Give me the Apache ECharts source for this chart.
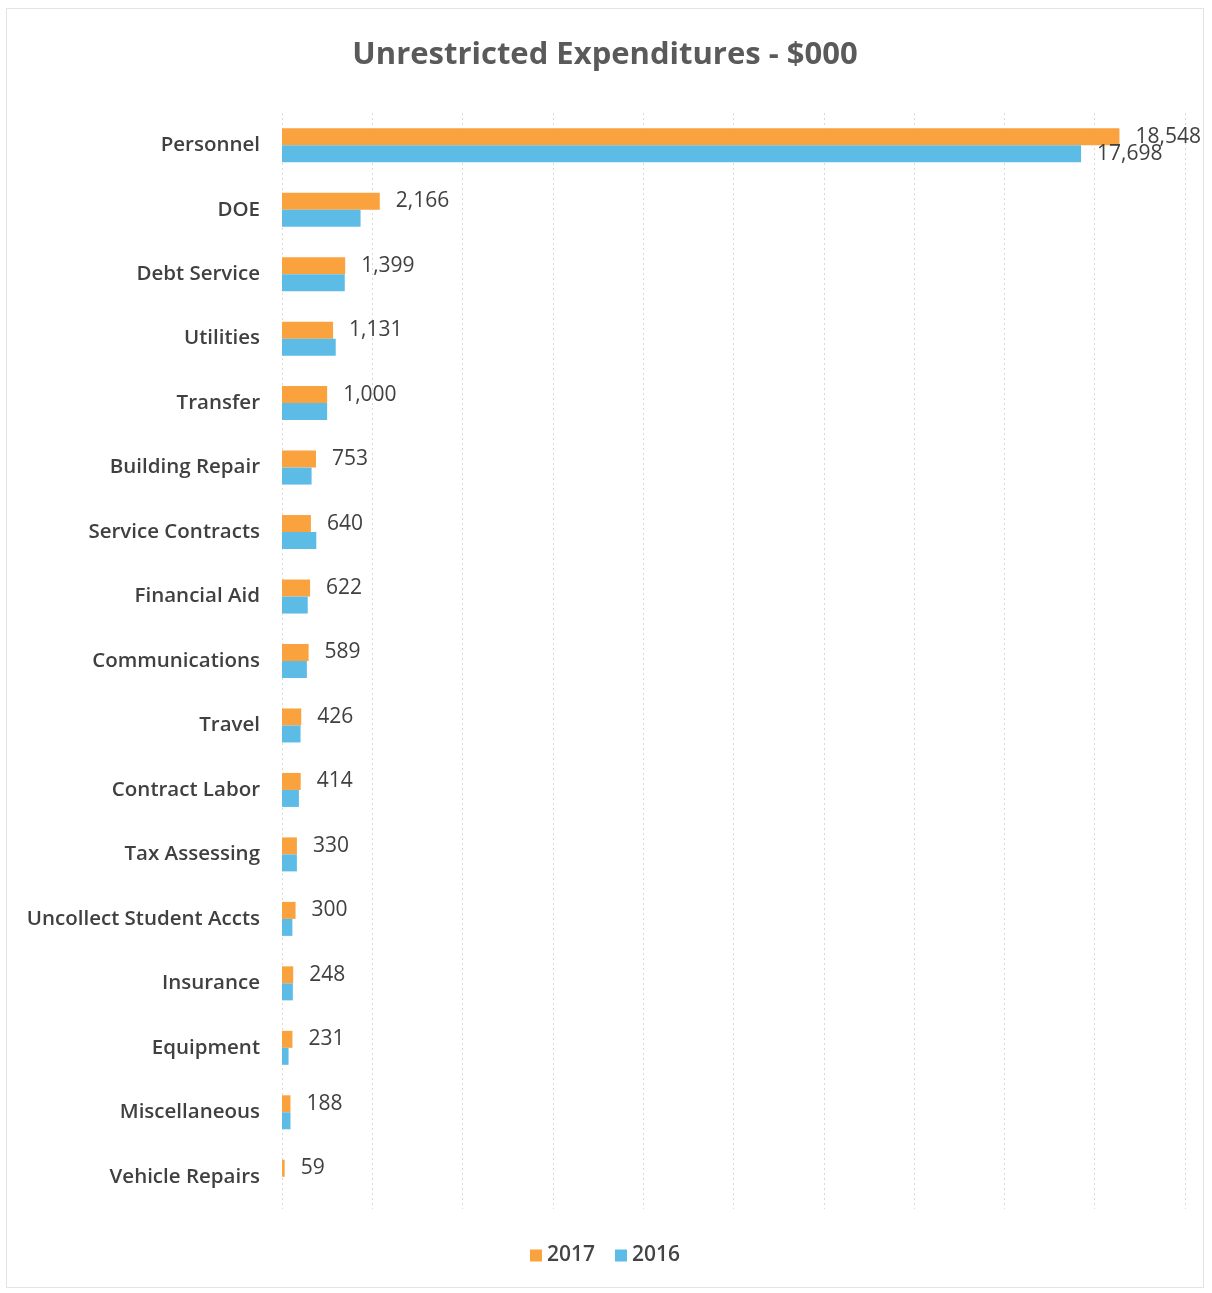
<!DOCTYPE html>
<html>
<head>
<meta charset="utf-8">
<script src="https://cdn.jsdelivr.net/npm/echarts@6/dist/echarts.min.js"></script>
<style>
  html, body { margin: 0; padding: 0; background: #fff; }
  #grafico { position: absolute; left: 6px; top: 8px; width: 1198px; height: 1280px; border: 1px solid #e4e4e4; box-sizing: border-box; }
</style>
</head>
<body>
<div id="grafico"></div>
<script>
var categorias = ['Personnel', 'DOE', 'Debt Service', 'Utilities', 'Transfer', 'Building Repair',
    'Service Contracts', 'Financial Aid', 'Communications', 'Travel', 'Contract Labor',
    'Tax Assessing', 'Uncollect Student Accts', 'Insurance', 'Equipment', 'Miscellaneous', 'Vehicle Repairs'];
var valores2017 = [18548, 2166, 1399, 1131, 1000, 753, 640, 622, 589, 426, 414, 330, 300, 248, 231, 188, 59];
var valores2016 = [17698, 1740, 1390, 1190, 1000, 655, 760, 570, 551, 411, 375, 330, 230, 240, 145, 188, 0];

var fonte = '"Open Sans", "Liberation Sans", sans-serif';

var myChart = echarts.init(document.getElementById('grafico'));

// so o Personnel tem rotulo na serie de 2016
var dados2016 = valores2016.map(function (v, i) {
    if (i == 0) {
        return { value: v, label: { show: true } };
    }
    return v;
});

var option = {
    animation: false,
    title: {
        text: 'Unrestricted Expenditures - $000',
        left: 'center',
        top: 26,
        textStyle: { fontFamily: fonte, fontSize: 31, fontWeight: 'bold', color: '#5a5a5a' }
    },
    legend: {
        bottom: 16,
        left: 'center',
        itemWidth: 12,
        itemHeight: 12,
        itemGap: 20,
        icon: 'rect',
        textStyle: { fontFamily: fonte, fontSize: 21, fontWeight: 600, color: '#444' },
        data: ['2017', '2016']
    },
    grid: { left: 275, right: 18, top: 104, bottom: 78 },
    xAxis: {
        type: 'value',
        min: 0,
        max: 20000,
        interval: 2000,
        axisLabel: { show: false },
        axisLine: { show: false },
        axisTick: { show: false },
        splitLine: { show: true, lineStyle: { color: '#d9d9d9', type: [2, 3] } }
    },
    yAxis: {
        type: 'category',
        inverse: true,
        data: categorias,
        axisLine: { show: false },
        axisTick: { show: false },
        axisLabel: { fontFamily: fonte, fontSize: 20.5, fontWeight: 600, color: '#404040', margin: 22 }
    },
    series: [
        {
            name: '2017',
            type: 'bar',
            data: valores2017,
            barWidth: 17,
            barGap: '0%',
            itemStyle: { color: '#F9A23E' },
            label: {
                show: true,
                position: 'right',
                distance: 16,
                fontFamily: fonte,
                fontSize: 21,
                color: '#404040',
                formatter: function (p) { return p.value.toLocaleString('en-US'); }
            }
        },
        {
            name: '2016',
            type: 'bar',
            data: dados2016,
            barWidth: 17,
            itemStyle: { color: '#5CBCE6' },
            label: {
                show: false,
                position: 'right',
                distance: 16,
                fontFamily: fonte,
                fontSize: 21,
                color: '#404040',
                formatter: function (p) { return p.value.toLocaleString('en-US'); }
            }
        }
    ]
};

myChart.setOption(option);
</script>
</body>
</html>
